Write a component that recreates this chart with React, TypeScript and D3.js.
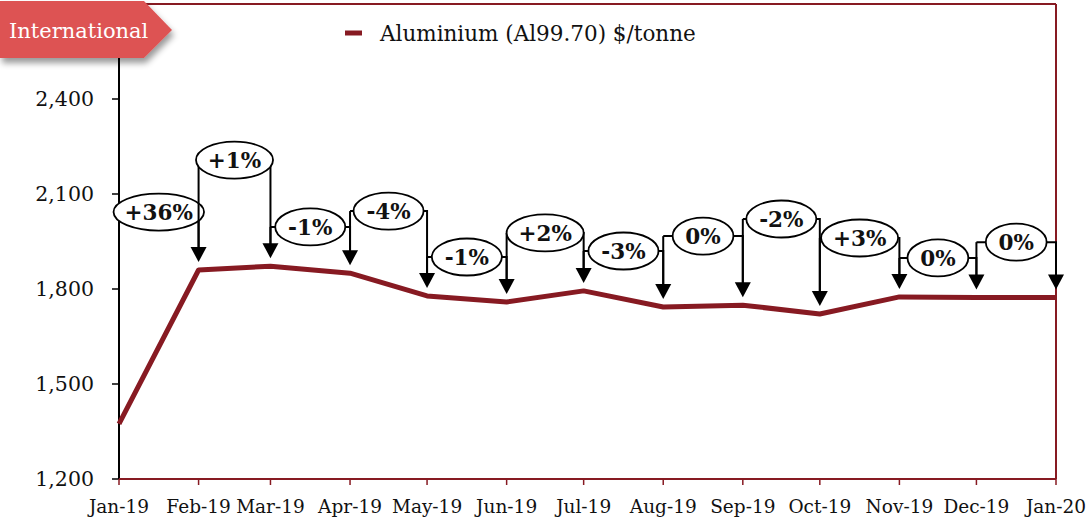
import React from 'react';
import * as d3 from 'd3';

const months = ['Jan-19', 'Feb-19', 'Mar-19', 'Apr-19', 'May-19', 'Jun-19', 'Jul-19',
  'Aug-19', 'Sep-19', 'Oct-19', 'Nov-19', 'Dec-19', 'Jan-20'];
const aluminium = [1374, 1860, 1872, 1850, 1778, 1759, 1794, 1743, 1749, 1721, 1775, 1773, 1773];
const changeLabels = ['+36%', '+1%', '-1%', '-4%', '-1%', '+2%', '-3%', '0%', '-2%', '+3%', '0%', '0%'];
// price level where each month-on-month callout sits
const calloutLevels = [2043, 2207, 1996, 2046, 1901, 1977, 1920, 1967, 2021, 1961, 1898, 1948];
const yTicks = [1200, 1500, 1800, 2100, 2400];

const W = 1089, H = 523;
const left = 119, right = 1056, top = 4, bottom = 479;
const red = '#871a22';
const font = '"DejaVu Serif", Georgia, serif';

const parse = d3.timeParse('%b-%y');
const dates = months.map(m => parse(m) as Date);

const x = d3.scaleTime().domain([dates[0], dates[dates.length - 1]]).range([left, right]);
const y = d3.scaleLinear().domain([1200, 2700]).range([bottom, top]);

const line = d3.line<number>().x((_, i) => x(dates[i])).y(d => y(d));

// rough bold text width for the callout ellipses
const labelSize = 21.5;
const charW: Record<string, number> = { '+': 0.838, '-': 0.478, '%': 1.0 };
const textW = (s: string) => s.split('').reduce((a, c) => a + (charW[c] ?? 0.696), 0) * labelSize * 0.9;

export default function App() {
  return (
    <svg width={W} height={H} style={{ position: 'absolute', left: 0, top: 0, fontFamily: font }}>
      <defs>
        <filter id="sh" x="-10%" y="-10%" width="130%" height="150%">
          <feDropShadow dx="2" dy="5" stdDeviation="3" floodColor="#000" floodOpacity="0.4" />
        </filter>
      </defs>
      <rect width={W} height={H} fill="#fff" />

      {/* frame */}
      <line x1={left} x2={right} y1={top} y2={top} stroke={red} strokeWidth={2} />
      <line x1={right} x2={right} y1={top} y2={bottom} stroke={red} strokeWidth={2} />
      <line x1={left} x2={left} y1={top} y2={bottom} stroke="#000" strokeWidth={2} />
      <line x1={left} x2={right} y1={bottom} y2={bottom} stroke={red} strokeWidth={2} />

      {/* y axis */}
      {yTicks.map(t => (
        <g key={t}>
          <line x1={left - 7} x2={left} y1={y(t)} y2={y(t)} stroke="#000" strokeWidth={1.5} />
          <text x={left - 25} y={y(t)} dy="0.35em" textAnchor="end" fontSize={20.5} fill="#111">
            {d3.format(',')(t)}
          </text>
        </g>
      ))}

      {/* x axis */}
      {dates.map((d, i) => (
        <g key={months[i]}>
          <line x1={x(d)} x2={x(d)} y1={bottom} y2={bottom + 6} stroke={red} strokeWidth={1.5} />
          <text x={x(d)} y={513} textAnchor="middle" fontSize={18.5} fill="#111">{months[i]}</text>
        </g>
      ))}

      {/* series */}
      <path d={line(aluminium) as string} fill="none" stroke={red} strokeWidth={5} strokeLinejoin="round" />

      {/* callouts */}
      {changeLabels.map((lab, k) => {
        const i = k + 1;
        const x0 = x(dates[i - 1]);
        const x1 = x(dates[i]);
        const ly = y(calloutLevels[k]);
        const tip = y(aluminium[i]) - 8;
        const prevTip = y(aluminium[i - 1]) - 8;
        const cx = (x0 + x1) / 2;
        const rx = textW(lab) / 2 + 14;
        return (
          <g key={k}>
            {k > 0 && <line x1={x0} x2={x0} y1={ly} y2={prevTip - 14} stroke="#000" strokeWidth={2} />}
            <path d={`M${x0},${ly}H${x1}V${tip - 14}`} fill="none" stroke="#000" strokeWidth={2} />
            <path d={`M${x1},${tip}l-8,-15h16z`} fill="#000" />
            <ellipse cx={cx} cy={ly} rx={rx} ry={18.5} fill="#fff" stroke="#000" strokeWidth={1.8} />
            <text x={cx} y={ly} dy="0.36em" textAnchor="middle" fontSize={labelSize} fontWeight="bold" fill="#111">{lab}</text>
          </g>
        );
      })}

      {/* legend */}
      <line x1={345} x2={362} y1={33} y2={33} stroke={red} strokeWidth={5} />
      <text x={380} y={41} fontSize={21.5} fill="#111">Aluminium (Al99.70) $/tonne</text>

      {/* badge */}
      <path d="M0,1H144L172,30L144,58H0Z" fill="#dd5252" filter="url(#sh)" />
      <text x={9} y={38} fontSize={21} fill="#fff">International</text>
    </svg>
  );
}
